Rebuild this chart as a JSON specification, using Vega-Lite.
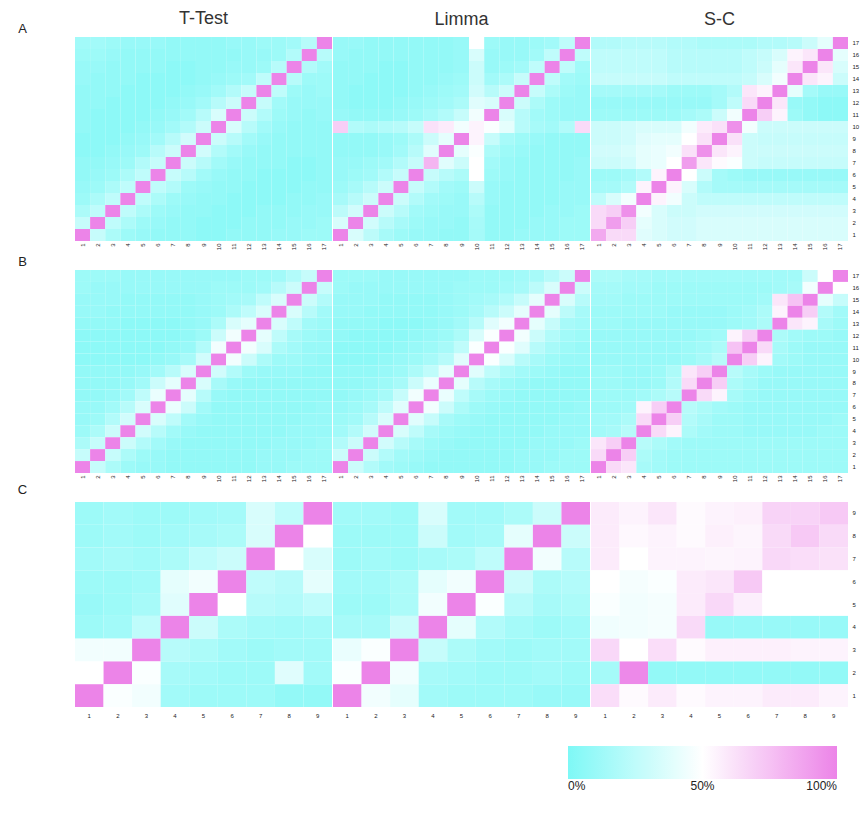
{
"$schema":"https://vega.github.io/schema/vega-lite/v6.json",
"padding":{"left":17,"top":10,"right":2,"bottom":2},
"background":"white",
"config":{"font":"Liberation Sans","view":{"stroke":null},"axis":{"ticks":false,"domain":false,"labelColor":"#222","labelFontSize":6},
"title":{"fontSize":18,"fontWeight":"normal","color":"#333","offset":8},
"legend":{"orient":"none","legendX":493,"legendY":709,"direction":"horizontal","gradientLength":269,"gradientThickness":33,"labelFontSize":12,"labelColor":"#222","labelOffset":8,"gradientStrokeWidth":0}},
"datasets":{
"ttA":[
{"c":1,"r":17,"v":14},{"c":2,"r":17,"v":14},{"c":3,"r":17,"v":12},{"c":4,"r":17,"v":10},{"c":5,"r":17,"v":10},{"c":6,"r":17,"v":10},{"c":7,"r":17,"v":8},{"c":8,"r":17,"v":8},{"c":9,"r":17,"v":8},{"c":10,"r":17,"v":8},{"c":11,"r":17,"v":10},{"c":12,"r":17,"v":10},{"c":13,"r":17,"v":12},{"c":14,"r":17,"v":12},{"c":15,"r":17,"v":14},{"c":16,"r":17,"v":22},{"c":17,"r":17,"v":100},
{"c":1,"r":16,"v":12},{"c":2,"r":16,"v":12},{"c":3,"r":16,"v":10},{"c":4,"r":16,"v":8},{"c":5,"r":16,"v":8},{"c":6,"r":16,"v":8},{"c":7,"r":16,"v":8},{"c":8,"r":16,"v":8},{"c":9,"r":16,"v":8},{"c":10,"r":16,"v":8},{"c":11,"r":16,"v":8},{"c":12,"r":16,"v":10},{"c":13,"r":16,"v":10},{"c":14,"r":16,"v":12},{"c":15,"r":16,"v":20},{"c":16,"r":16,"v":100},{"c":17,"r":16,"v":22},
{"c":1,"r":15,"v":10},{"c":2,"r":15,"v":10},{"c":3,"r":15,"v":8},{"c":4,"r":15,"v":8},{"c":5,"r":15,"v":8},{"c":6,"r":15,"v":8},{"c":7,"r":15,"v":6},{"c":8,"r":15,"v":6},{"c":9,"r":15,"v":8},{"c":10,"r":15,"v":8},{"c":11,"r":15,"v":10},{"c":12,"r":15,"v":10},{"c":13,"r":15,"v":12},{"c":14,"r":15,"v":22},{"c":15,"r":15,"v":100},{"c":16,"r":15,"v":20},{"c":17,"r":15,"v":14},
{"c":1,"r":14,"v":10},{"c":2,"r":14,"v":8},{"c":3,"r":14,"v":8},{"c":4,"r":14,"v":8},{"c":5,"r":14,"v":6},{"c":6,"r":14,"v":6},{"c":7,"r":14,"v":6},{"c":8,"r":14,"v":6},{"c":9,"r":14,"v":8},{"c":10,"r":14,"v":10},{"c":11,"r":14,"v":12},{"c":12,"r":14,"v":14},{"c":13,"r":14,"v":25},{"c":14,"r":14,"v":100},{"c":15,"r":14,"v":22},{"c":16,"r":14,"v":12},{"c":17,"r":14,"v":12},
{"c":1,"r":13,"v":8},{"c":2,"r":13,"v":8},{"c":3,"r":13,"v":8},{"c":4,"r":13,"v":6},{"c":5,"r":13,"v":6},{"c":6,"r":13,"v":6},{"c":7,"r":13,"v":6},{"c":8,"r":13,"v":8},{"c":9,"r":13,"v":10},{"c":10,"r":13,"v":14},{"c":11,"r":13,"v":20},{"c":12,"r":13,"v":28},{"c":13,"r":13,"v":100},{"c":14,"r":13,"v":25},{"c":15,"r":13,"v":12},{"c":16,"r":13,"v":10},{"c":17,"r":13,"v":12},
{"c":1,"r":12,"v":8},{"c":2,"r":12,"v":8},{"c":3,"r":12,"v":6},{"c":4,"r":12,"v":6},{"c":5,"r":12,"v":6},{"c":6,"r":12,"v":6},{"c":7,"r":12,"v":8},{"c":8,"r":12,"v":10},{"c":9,"r":12,"v":14},{"c":10,"r":12,"v":22},{"c":11,"r":12,"v":30},{"c":12,"r":12,"v":100},{"c":13,"r":12,"v":28},{"c":14,"r":12,"v":14},{"c":15,"r":12,"v":10},{"c":16,"r":12,"v":10},{"c":17,"r":12,"v":10},
{"c":1,"r":11,"v":8},{"c":2,"r":11,"v":6},{"c":3,"r":11,"v":6},{"c":4,"r":11,"v":6},{"c":5,"r":11,"v":6},{"c":6,"r":11,"v":8},{"c":7,"r":11,"v":10},{"c":8,"r":11,"v":14},{"c":9,"r":11,"v":22},{"c":10,"r":11,"v":35},{"c":11,"r":11,"v":100},{"c":12,"r":11,"v":30},{"c":13,"r":11,"v":20},{"c":14,"r":11,"v":12},{"c":15,"r":11,"v":10},{"c":16,"r":11,"v":8},{"c":17,"r":11,"v":10},
{"c":1,"r":10,"v":8},{"c":2,"r":10,"v":6},{"c":3,"r":10,"v":6},{"c":4,"r":10,"v":6},{"c":5,"r":10,"v":8},{"c":6,"r":10,"v":10},{"c":7,"r":10,"v":14},{"c":8,"r":10,"v":20},{"c":9,"r":10,"v":30},{"c":10,"r":10,"v":100},{"c":11,"r":10,"v":35},{"c":12,"r":10,"v":22},{"c":13,"r":10,"v":14},{"c":14,"r":10,"v":10},{"c":15,"r":10,"v":8},{"c":16,"r":10,"v":8},{"c":17,"r":10,"v":8},
{"c":1,"r":9,"v":6},{"c":2,"r":9,"v":6},{"c":3,"r":9,"v":6},{"c":4,"r":9,"v":8},{"c":5,"r":9,"v":10},{"c":6,"r":9,"v":14},{"c":7,"r":9,"v":22},{"c":8,"r":9,"v":32},{"c":9,"r":9,"v":100},{"c":10,"r":9,"v":30},{"c":11,"r":9,"v":22},{"c":12,"r":9,"v":14},{"c":13,"r":9,"v":10},{"c":14,"r":9,"v":8},{"c":15,"r":9,"v":8},{"c":16,"r":9,"v":8},{"c":17,"r":9,"v":8},
{"c":1,"r":8,"v":6},{"c":2,"r":8,"v":6},{"c":3,"r":8,"v":8},{"c":4,"r":8,"v":10},{"c":5,"r":8,"v":12},{"c":6,"r":8,"v":22},{"c":7,"r":8,"v":30},{"c":8,"r":8,"v":100},{"c":9,"r":8,"v":32},{"c":10,"r":8,"v":20},{"c":11,"r":8,"v":14},{"c":12,"r":8,"v":10},{"c":13,"r":8,"v":8},{"c":14,"r":8,"v":8},{"c":15,"r":8,"v":8},{"c":16,"r":8,"v":8},{"c":17,"r":8,"v":8},
{"c":1,"r":7,"v":8},{"c":2,"r":7,"v":8},{"c":3,"r":7,"v":10},{"c":4,"r":7,"v":12},{"c":5,"r":7,"v":20},{"c":6,"r":7,"v":28},{"c":7,"r":7,"v":100},{"c":8,"r":7,"v":30},{"c":9,"r":7,"v":22},{"c":10,"r":7,"v":14},{"c":11,"r":7,"v":10},{"c":12,"r":7,"v":8},{"c":13,"r":7,"v":8},{"c":14,"r":7,"v":8},{"c":15,"r":7,"v":6},{"c":16,"r":7,"v":6},{"c":17,"r":7,"v":8},
{"c":1,"r":6,"v":8},{"c":2,"r":6,"v":10},{"c":3,"r":6,"v":12},{"c":4,"r":6,"v":18},{"c":5,"r":6,"v":25},{"c":6,"r":6,"v":100},{"c":7,"r":6,"v":28},{"c":8,"r":6,"v":22},{"c":9,"r":6,"v":14},{"c":10,"r":6,"v":10},{"c":11,"r":6,"v":8},{"c":12,"r":6,"v":8},{"c":13,"r":6,"v":6},{"c":14,"r":6,"v":6},{"c":15,"r":6,"v":6},{"c":16,"r":6,"v":6},{"c":17,"r":6,"v":8},
{"c":1,"r":5,"v":10},{"c":2,"r":5,"v":12},{"c":3,"r":5,"v":18},{"c":4,"r":5,"v":25},{"c":5,"r":5,"v":100},{"c":6,"r":5,"v":25},{"c":7,"r":5,"v":20},{"c":8,"r":5,"v":12},{"c":9,"r":5,"v":10},{"c":10,"r":5,"v":8},{"c":11,"r":5,"v":8},{"c":12,"r":5,"v":6},{"c":13,"r":5,"v":6},{"c":14,"r":5,"v":6},{"c":15,"r":5,"v":6},{"c":16,"r":5,"v":8},{"c":17,"r":5,"v":8},
{"c":1,"r":4,"v":12},{"c":2,"r":4,"v":18},{"c":3,"r":4,"v":25},{"c":4,"r":4,"v":100},{"c":5,"r":4,"v":25},{"c":6,"r":4,"v":18},{"c":7,"r":4,"v":12},{"c":8,"r":4,"v":10},{"c":9,"r":4,"v":8},{"c":10,"r":4,"v":8},{"c":11,"r":4,"v":6},{"c":12,"r":4,"v":6},{"c":13,"r":4,"v":6},{"c":14,"r":4,"v":6},{"c":15,"r":4,"v":8},{"c":16,"r":4,"v":8},{"c":17,"r":4,"v":10},
{"c":1,"r":3,"v":18},{"c":2,"r":3,"v":25},{"c":3,"r":3,"v":100},{"c":4,"r":3,"v":25},{"c":5,"r":3,"v":18},{"c":6,"r":3,"v":12},{"c":7,"r":3,"v":10},{"c":8,"r":3,"v":8},{"c":9,"r":3,"v":8},{"c":10,"r":3,"v":6},{"c":11,"r":3,"v":6},{"c":12,"r":3,"v":6},{"c":13,"r":3,"v":8},{"c":14,"r":3,"v":8},{"c":15,"r":3,"v":8},{"c":16,"r":3,"v":10},{"c":17,"r":3,"v":10},
{"c":1,"r":2,"v":28},{"c":2,"r":2,"v":100},{"c":3,"r":2,"v":25},{"c":4,"r":2,"v":18},{"c":5,"r":2,"v":12},{"c":6,"r":2,"v":10},{"c":7,"r":2,"v":8},{"c":8,"r":2,"v":8},{"c":9,"r":2,"v":6},{"c":10,"r":2,"v":6},{"c":11,"r":2,"v":6},{"c":12,"r":2,"v":8},{"c":13,"r":2,"v":8},{"c":14,"r":2,"v":8},{"c":15,"r":2,"v":10},{"c":16,"r":2,"v":10},{"c":17,"r":2,"v":12},
{"c":1,"r":1,"v":100},{"c":2,"r":1,"v":28},{"c":3,"r":1,"v":18},{"c":4,"r":1,"v":12},{"c":5,"r":1,"v":10},{"c":6,"r":1,"v":8},{"c":7,"r":1,"v":8},{"c":8,"r":1,"v":8},{"c":9,"r":1,"v":6},{"c":10,"r":1,"v":6},{"c":11,"r":1,"v":8},{"c":12,"r":1,"v":8},{"c":13,"r":1,"v":8},{"c":14,"r":1,"v":10},{"c":15,"r":1,"v":10},{"c":16,"r":1,"v":12},{"c":17,"r":1,"v":12}],
"limA":[
{"c":1,"r":17,"v":10},{"c":2,"r":17,"v":10},{"c":3,"r":17,"v":8},{"c":4,"r":17,"v":8},{"c":5,"r":17,"v":8},{"c":6,"r":17,"v":8},{"c":7,"r":17,"v":8},{"c":8,"r":17,"v":8},{"c":9,"r":17,"v":10},{"c":10,"r":17,"v":50},{"c":11,"r":17,"v":12},{"c":12,"r":17,"v":10},{"c":13,"r":17,"v":10},{"c":14,"r":17,"v":12},{"c":15,"r":17,"v":14},{"c":16,"r":17,"v":25},{"c":17,"r":17,"v":100},
{"c":1,"r":16,"v":10},{"c":2,"r":16,"v":8},{"c":3,"r":16,"v":8},{"c":4,"r":16,"v":8},{"c":5,"r":16,"v":8},{"c":6,"r":16,"v":8},{"c":7,"r":16,"v":8},{"c":8,"r":16,"v":8},{"c":9,"r":16,"v":10},{"c":10,"r":16,"v":35},{"c":11,"r":16,"v":10},{"c":12,"r":16,"v":10},{"c":13,"r":16,"v":10},{"c":14,"r":16,"v":14},{"c":15,"r":16,"v":25},{"c":16,"r":16,"v":100},{"c":17,"r":16,"v":25},
{"c":1,"r":15,"v":8},{"c":2,"r":15,"v":8},{"c":3,"r":15,"v":8},{"c":4,"r":15,"v":6},{"c":5,"r":15,"v":6},{"c":6,"r":15,"v":8},{"c":7,"r":15,"v":8},{"c":8,"r":15,"v":8},{"c":9,"r":15,"v":10},{"c":10,"r":15,"v":30},{"c":11,"r":15,"v":10},{"c":12,"r":15,"v":12},{"c":13,"r":15,"v":14},{"c":14,"r":15,"v":25},{"c":15,"r":15,"v":100},{"c":16,"r":15,"v":25},{"c":17,"r":15,"v":14},
{"c":1,"r":14,"v":8},{"c":2,"r":14,"v":8},{"c":3,"r":14,"v":6},{"c":4,"r":14,"v":6},{"c":5,"r":14,"v":6},{"c":6,"r":14,"v":8},{"c":7,"r":14,"v":8},{"c":8,"r":14,"v":10},{"c":9,"r":14,"v":12},{"c":10,"r":14,"v":30},{"c":11,"r":14,"v":14},{"c":12,"r":14,"v":18},{"c":13,"r":14,"v":28},{"c":14,"r":14,"v":100},{"c":15,"r":14,"v":25},{"c":16,"r":14,"v":14},{"c":17,"r":14,"v":12},
{"c":1,"r":13,"v":8},{"c":2,"r":13,"v":6},{"c":3,"r":13,"v":6},{"c":4,"r":13,"v":6},{"c":5,"r":13,"v":6},{"c":6,"r":13,"v":8},{"c":7,"r":13,"v":10},{"c":8,"r":13,"v":12},{"c":9,"r":13,"v":14},{"c":10,"r":13,"v":32},{"c":11,"r":13,"v":22},{"c":12,"r":13,"v":30},{"c":13,"r":13,"v":100},{"c":14,"r":13,"v":28},{"c":15,"r":13,"v":18},{"c":16,"r":13,"v":12},{"c":17,"r":13,"v":10},
{"c":1,"r":12,"v":8},{"c":2,"r":12,"v":6},{"c":3,"r":12,"v":6},{"c":4,"r":12,"v":6},{"c":5,"r":12,"v":8},{"c":6,"r":12,"v":10},{"c":7,"r":12,"v":12},{"c":8,"r":12,"v":14},{"c":9,"r":12,"v":18},{"c":10,"r":12,"v":38},{"c":11,"r":12,"v":35},{"c":12,"r":12,"v":100},{"c":13,"r":12,"v":30},{"c":14,"r":12,"v":18},{"c":15,"r":12,"v":12},{"c":16,"r":12,"v":10},{"c":17,"r":12,"v":10},
{"c":1,"r":11,"v":10},{"c":2,"r":11,"v":8},{"c":3,"r":11,"v":8},{"c":4,"r":11,"v":8},{"c":5,"r":11,"v":10},{"c":6,"r":11,"v":12},{"c":7,"r":11,"v":16},{"c":8,"r":11,"v":20},{"c":9,"r":11,"v":28},{"c":10,"r":11,"v":45},{"c":11,"r":11,"v":100},{"c":12,"r":11,"v":35},{"c":13,"r":11,"v":22},{"c":14,"r":11,"v":14},{"c":15,"r":11,"v":12},{"c":16,"r":11,"v":10},{"c":17,"r":11,"v":10},
{"c":1,"r":10,"v":70},{"c":2,"r":10,"v":20},{"c":3,"r":10,"v":18},{"c":4,"r":10,"v":20},{"c":5,"r":10,"v":22},{"c":6,"r":10,"v":28},{"c":7,"r":10,"v":62},{"c":8,"r":10,"v":58},{"c":9,"r":10,"v":45},{"c":10,"r":10,"v":55},{"c":11,"r":10,"v":48},{"c":12,"r":10,"v":40},{"c":13,"r":10,"v":22},{"c":14,"r":10,"v":16},{"c":15,"r":10,"v":14},{"c":16,"r":10,"v":20},{"c":17,"r":10,"v":65},
{"c":1,"r":9,"v":8},{"c":2,"r":9,"v":8},{"c":3,"r":9,"v":8},{"c":4,"r":9,"v":10},{"c":5,"r":9,"v":12},{"c":6,"r":9,"v":18},{"c":7,"r":9,"v":30},{"c":8,"r":9,"v":40},{"c":9,"r":9,"v":100},{"c":10,"r":9,"v":55},{"c":11,"r":9,"v":28},{"c":12,"r":9,"v":16},{"c":13,"r":9,"v":12},{"c":14,"r":9,"v":10},{"c":15,"r":9,"v":8},{"c":16,"r":9,"v":8},{"c":17,"r":9,"v":8},
{"c":1,"r":8,"v":8},{"c":2,"r":8,"v":8},{"c":3,"r":8,"v":8},{"c":4,"r":8,"v":10},{"c":5,"r":8,"v":14},{"c":6,"r":8,"v":22},{"c":7,"r":8,"v":38},{"c":8,"r":8,"v":100},{"c":9,"r":8,"v":40},{"c":10,"r":8,"v":48},{"c":11,"r":8,"v":18},{"c":12,"r":8,"v":12},{"c":13,"r":8,"v":10},{"c":14,"r":8,"v":8},{"c":15,"r":8,"v":8},{"c":16,"r":8,"v":8},{"c":17,"r":8,"v":8},
{"c":1,"r":7,"v":10},{"c":2,"r":7,"v":10},{"c":3,"r":7,"v":12},{"c":4,"r":7,"v":14},{"c":5,"r":7,"v":20},{"c":6,"r":7,"v":28},{"c":7,"r":7,"v":80},{"c":8,"r":7,"v":38},{"c":9,"r":7,"v":30},{"c":10,"r":7,"v":50},{"c":11,"r":7,"v":14},{"c":12,"r":7,"v":10},{"c":13,"r":7,"v":8},{"c":14,"r":7,"v":8},{"c":15,"r":7,"v":8},{"c":16,"r":7,"v":8},{"c":17,"r":7,"v":10},
{"c":1,"r":6,"v":10},{"c":2,"r":6,"v":12},{"c":3,"r":6,"v":14},{"c":4,"r":6,"v":20},{"c":5,"r":6,"v":28},{"c":6,"r":6,"v":100},{"c":7,"r":6,"v":28},{"c":8,"r":6,"v":22},{"c":9,"r":6,"v":18},{"c":10,"r":6,"v":50},{"c":11,"r":6,"v":12},{"c":12,"r":6,"v":10},{"c":13,"r":6,"v":8},{"c":14,"r":6,"v":8},{"c":15,"r":6,"v":8},{"c":16,"r":6,"v":8},{"c":17,"r":6,"v":10},
{"c":1,"r":5,"v":12},{"c":2,"r":5,"v":16},{"c":3,"r":5,"v":22},{"c":4,"r":5,"v":30},{"c":5,"r":5,"v":100},{"c":6,"r":5,"v":28},{"c":7,"r":5,"v":20},{"c":8,"r":5,"v":14},{"c":9,"r":5,"v":12},{"c":10,"r":5,"v":30},{"c":11,"r":5,"v":10},{"c":12,"r":5,"v":8},{"c":13,"r":5,"v":8},{"c":14,"r":5,"v":8},{"c":15,"r":5,"v":8},{"c":16,"r":5,"v":10},{"c":17,"r":5,"v":10},
{"c":1,"r":4,"v":16},{"c":2,"r":4,"v":22},{"c":3,"r":4,"v":30},{"c":4,"r":4,"v":100},{"c":5,"r":4,"v":30},{"c":6,"r":4,"v":20},{"c":7,"r":4,"v":14},{"c":8,"r":4,"v":12},{"c":9,"r":4,"v":10},{"c":10,"r":4,"v":22},{"c":11,"r":4,"v":10},{"c":12,"r":4,"v":8},{"c":13,"r":4,"v":8},{"c":14,"r":4,"v":8},{"c":15,"r":4,"v":8},{"c":16,"r":4,"v":10},{"c":17,"r":4,"v":10},
{"c":1,"r":3,"v":24},{"c":2,"r":3,"v":32},{"c":3,"r":3,"v":100},{"c":4,"r":3,"v":30},{"c":5,"r":3,"v":22},{"c":6,"r":3,"v":14},{"c":7,"r":3,"v":12},{"c":8,"r":3,"v":10},{"c":9,"r":3,"v":10},{"c":10,"r":3,"v":18},{"c":11,"r":3,"v":8},{"c":12,"r":3,"v":8},{"c":13,"r":3,"v":8},{"c":14,"r":3,"v":8},{"c":15,"r":3,"v":10},{"c":16,"r":3,"v":10},{"c":17,"r":3,"v":12},
{"c":1,"r":2,"v":35},{"c":2,"r":2,"v":100},{"c":3,"r":2,"v":32},{"c":4,"r":2,"v":22},{"c":5,"r":2,"v":16},{"c":6,"r":2,"v":12},{"c":7,"r":2,"v":10},{"c":8,"r":2,"v":10},{"c":9,"r":2,"v":8},{"c":10,"r":2,"v":16},{"c":11,"r":2,"v":8},{"c":12,"r":2,"v":8},{"c":13,"r":2,"v":8},{"c":14,"r":2,"v":10},{"c":15,"r":2,"v":10},{"c":16,"r":2,"v":12},{"c":17,"r":2,"v":12},
{"c":1,"r":1,"v":100},{"c":2,"r":1,"v":35},{"c":3,"r":1,"v":24},{"c":4,"r":1,"v":16},{"c":5,"r":1,"v":12},{"c":6,"r":1,"v":10},{"c":7,"r":1,"v":10},{"c":8,"r":1,"v":8},{"c":9,"r":1,"v":8},{"c":10,"r":1,"v":15},{"c":11,"r":1,"v":8},{"c":12,"r":1,"v":8},{"c":13,"r":1,"v":10},{"c":14,"r":1,"v":10},{"c":15,"r":1,"v":10},{"c":16,"r":1,"v":12},{"c":17,"r":1,"v":12}],
"scA":[
{"c":1,"r":17,"v":20},{"c":2,"r":17,"v":20},{"c":3,"r":17,"v":22},{"c":4,"r":17,"v":22},{"c":5,"r":17,"v":22},{"c":6,"r":17,"v":20},{"c":7,"r":17,"v":20},{"c":8,"r":17,"v":18},{"c":9,"r":17,"v":18},{"c":10,"r":17,"v":18},{"c":11,"r":17,"v":18},{"c":12,"r":17,"v":20},{"c":13,"r":17,"v":20},{"c":14,"r":17,"v":22},{"c":15,"r":17,"v":30},{"c":16,"r":17,"v":40},{"c":17,"r":17,"v":100},
{"c":1,"r":16,"v":25},{"c":2,"r":16,"v":25},{"c":3,"r":16,"v":25},{"c":4,"r":16,"v":25},{"c":5,"r":16,"v":25},{"c":6,"r":16,"v":22},{"c":7,"r":16,"v":22},{"c":8,"r":16,"v":22},{"c":9,"r":16,"v":22},{"c":10,"r":16,"v":22},{"c":11,"r":16,"v":25},{"c":12,"r":16,"v":28},{"c":13,"r":16,"v":35},{"c":14,"r":16,"v":55},{"c":15,"r":16,"v":60},{"c":16,"r":16,"v":100},{"c":17,"r":16,"v":40},
{"c":1,"r":15,"v":25},{"c":2,"r":15,"v":25},{"c":3,"r":15,"v":25},{"c":4,"r":15,"v":25},{"c":5,"r":15,"v":25},{"c":6,"r":15,"v":22},{"c":7,"r":15,"v":22},{"c":8,"r":15,"v":22},{"c":9,"r":15,"v":22},{"c":10,"r":15,"v":22},{"c":11,"r":15,"v":25},{"c":12,"r":15,"v":30},{"c":13,"r":15,"v":40},{"c":14,"r":15,"v":60},{"c":15,"r":15,"v":100},{"c":16,"r":15,"v":60},{"c":17,"r":15,"v":35},
{"c":1,"r":14,"v":28},{"c":2,"r":14,"v":28},{"c":3,"r":14,"v":28},{"c":4,"r":14,"v":28},{"c":5,"r":14,"v":28},{"c":6,"r":14,"v":25},{"c":7,"r":14,"v":25},{"c":8,"r":14,"v":25},{"c":9,"r":14,"v":25},{"c":10,"r":14,"v":25},{"c":11,"r":14,"v":28},{"c":12,"r":14,"v":35},{"c":13,"r":14,"v":45},{"c":14,"r":14,"v":100},{"c":15,"r":14,"v":60},{"c":16,"r":14,"v":55},{"c":17,"r":14,"v":30},
{"c":1,"r":13,"v":15},{"c":2,"r":13,"v":15},{"c":3,"r":13,"v":15},{"c":4,"r":13,"v":15},{"c":5,"r":13,"v":15},{"c":6,"r":13,"v":12},{"c":7,"r":13,"v":12},{"c":8,"r":13,"v":12},{"c":9,"r":13,"v":15},{"c":10,"r":13,"v":20},{"c":11,"r":13,"v":60},{"c":12,"r":13,"v":55},{"c":13,"r":13,"v":100},{"c":14,"r":13,"v":40},{"c":15,"r":13,"v":15},{"c":16,"r":13,"v":10},{"c":17,"r":13,"v":10},
{"c":1,"r":12,"v":10},{"c":2,"r":12,"v":10},{"c":3,"r":12,"v":10},{"c":4,"r":12,"v":10},{"c":5,"r":12,"v":10},{"c":6,"r":12,"v":10},{"c":7,"r":12,"v":10},{"c":8,"r":12,"v":10},{"c":9,"r":12,"v":15},{"c":10,"r":12,"v":25},{"c":11,"r":12,"v":65},{"c":12,"r":12,"v":100},{"c":13,"r":12,"v":60},{"c":14,"r":12,"v":10},{"c":15,"r":12,"v":8},{"c":16,"r":12,"v":6},{"c":17,"r":12,"v":6},
{"c":1,"r":11,"v":12},{"c":2,"r":11,"v":12},{"c":3,"r":11,"v":12},{"c":4,"r":11,"v":12},{"c":5,"r":11,"v":12},{"c":6,"r":11,"v":12},{"c":7,"r":11,"v":15},{"c":8,"r":11,"v":18},{"c":9,"r":11,"v":30},{"c":10,"r":11,"v":45},{"c":11,"r":11,"v":100},{"c":12,"r":11,"v":70},{"c":13,"r":11,"v":55},{"c":14,"r":11,"v":12},{"c":15,"r":11,"v":8},{"c":16,"r":11,"v":6},{"c":17,"r":11,"v":6},
{"c":1,"r":10,"v":30},{"c":2,"r":10,"v":30},{"c":3,"r":10,"v":32},{"c":4,"r":10,"v":35},{"c":5,"r":10,"v":35},{"c":6,"r":10,"v":35},{"c":7,"r":10,"v":45},{"c":8,"r":10,"v":58},{"c":9,"r":10,"v":62},{"c":10,"r":10,"v":95},{"c":11,"r":10,"v":45},{"c":12,"r":10,"v":30},{"c":13,"r":10,"v":30},{"c":14,"r":10,"v":30},{"c":15,"r":10,"v":30},{"c":16,"r":10,"v":30},{"c":17,"r":10,"v":30},
{"c":1,"r":9,"v":30},{"c":2,"r":9,"v":30},{"c":3,"r":9,"v":32},{"c":4,"r":9,"v":38},{"c":5,"r":9,"v":40},{"c":6,"r":9,"v":40},{"c":7,"r":9,"v":50},{"c":8,"r":9,"v":62},{"c":9,"r":9,"v":100},{"c":10,"r":9,"v":62},{"c":11,"r":9,"v":30},{"c":12,"r":9,"v":28},{"c":13,"r":9,"v":28},{"c":14,"r":9,"v":28},{"c":15,"r":9,"v":28},{"c":16,"r":9,"v":28},{"c":17,"r":9,"v":28},
{"c":1,"r":8,"v":32},{"c":2,"r":8,"v":32},{"c":3,"r":8,"v":35},{"c":4,"r":8,"v":40},{"c":5,"r":8,"v":42},{"c":6,"r":8,"v":45},{"c":7,"r":8,"v":62},{"c":8,"r":8,"v":95},{"c":9,"r":8,"v":60},{"c":10,"r":8,"v":55},{"c":11,"r":8,"v":30},{"c":12,"r":8,"v":30},{"c":13,"r":8,"v":30},{"c":14,"r":8,"v":30},{"c":15,"r":8,"v":30},{"c":16,"r":8,"v":30},{"c":17,"r":8,"v":30},
{"c":1,"r":7,"v":30},{"c":2,"r":7,"v":30},{"c":3,"r":7,"v":32},{"c":4,"r":7,"v":40},{"c":5,"r":7,"v":42},{"c":6,"r":7,"v":50},{"c":7,"r":7,"v":90},{"c":8,"r":7,"v":60},{"c":9,"r":7,"v":52},{"c":10,"r":7,"v":48},{"c":11,"r":7,"v":30},{"c":12,"r":7,"v":28},{"c":13,"r":7,"v":28},{"c":14,"r":7,"v":28},{"c":15,"r":7,"v":28},{"c":16,"r":7,"v":28},{"c":17,"r":7,"v":28},
{"c":1,"r":6,"v":12},{"c":2,"r":6,"v":12},{"c":3,"r":6,"v":15},{"c":4,"r":6,"v":20},{"c":5,"r":6,"v":55},{"c":6,"r":6,"v":100},{"c":7,"r":6,"v":50},{"c":8,"r":6,"v":30},{"c":9,"r":6,"v":15},{"c":10,"r":6,"v":12},{"c":11,"r":6,"v":10},{"c":12,"r":6,"v":10},{"c":13,"r":6,"v":10},{"c":14,"r":6,"v":10},{"c":15,"r":6,"v":10},{"c":16,"r":6,"v":10},{"c":17,"r":6,"v":10},
{"c":1,"r":5,"v":15},{"c":2,"r":5,"v":15},{"c":3,"r":5,"v":20},{"c":4,"r":5,"v":55},{"c":5,"r":5,"v":100},{"c":6,"r":5,"v":55},{"c":7,"r":5,"v":35},{"c":8,"r":5,"v":20},{"c":9,"r":5,"v":15},{"c":10,"r":5,"v":15},{"c":11,"r":5,"v":15},{"c":12,"r":5,"v":15},{"c":13,"r":5,"v":15},{"c":14,"r":5,"v":15},{"c":15,"r":5,"v":15},{"c":16,"r":5,"v":15},{"c":17,"r":5,"v":15},
{"c":1,"r":4,"v":25},{"c":2,"r":4,"v":35},{"c":3,"r":4,"v":45},{"c":4,"r":4,"v":100},{"c":5,"r":4,"v":55},{"c":6,"r":4,"v":45},{"c":7,"r":4,"v":30},{"c":8,"r":4,"v":25},{"c":9,"r":4,"v":25},{"c":10,"r":4,"v":25},{"c":11,"r":4,"v":25},{"c":12,"r":4,"v":25},{"c":13,"r":4,"v":25},{"c":14,"r":4,"v":25},{"c":15,"r":4,"v":25},{"c":16,"r":4,"v":25},{"c":17,"r":4,"v":25},
{"c":1,"r":3,"v":65},{"c":2,"r":3,"v":70},{"c":3,"r":3,"v":95},{"c":4,"r":3,"v":45},{"c":5,"r":3,"v":35},{"c":6,"r":3,"v":30},{"c":7,"r":3,"v":30},{"c":8,"r":3,"v":32},{"c":9,"r":3,"v":32},{"c":10,"r":3,"v":32},{"c":11,"r":3,"v":32},{"c":12,"r":3,"v":32},{"c":13,"r":3,"v":32},{"c":14,"r":3,"v":32},{"c":15,"r":3,"v":32},{"c":16,"r":3,"v":32},{"c":17,"r":3,"v":32},
{"c":1,"r":2,"v":65},{"c":2,"r":2,"v":90},{"c":3,"r":2,"v":70},{"c":4,"r":2,"v":40},{"c":5,"r":2,"v":35},{"c":6,"r":2,"v":32},{"c":7,"r":2,"v":32},{"c":8,"r":2,"v":35},{"c":9,"r":2,"v":35},{"c":10,"r":2,"v":35},{"c":11,"r":2,"v":35},{"c":12,"r":2,"v":35},{"c":13,"r":2,"v":35},{"c":14,"r":2,"v":35},{"c":15,"r":2,"v":35},{"c":16,"r":2,"v":35},{"c":17,"r":2,"v":35},
{"c":1,"r":1,"v":85},{"c":2,"r":1,"v":65},{"c":3,"r":1,"v":65},{"c":4,"r":1,"v":38},{"c":5,"r":1,"v":35},{"c":6,"r":1,"v":32},{"c":7,"r":1,"v":32},{"c":8,"r":1,"v":35},{"c":9,"r":1,"v":35},{"c":10,"r":1,"v":35},{"c":11,"r":1,"v":35},{"c":12,"r":1,"v":35},{"c":13,"r":1,"v":35},{"c":14,"r":1,"v":35},{"c":15,"r":1,"v":35},{"c":16,"r":1,"v":35},{"c":17,"r":1,"v":35}],
"ttB":[
{"c":1,"r":17,"v":12},{"c":2,"r":17,"v":12},{"c":3,"r":17,"v":12},{"c":4,"r":17,"v":10},{"c":5,"r":17,"v":10},{"c":6,"r":17,"v":10},{"c":7,"r":17,"v":10},{"c":8,"r":17,"v":10},{"c":9,"r":17,"v":10},{"c":10,"r":17,"v":10},{"c":11,"r":17,"v":10},{"c":12,"r":17,"v":12},{"c":13,"r":17,"v":12},{"c":14,"r":17,"v":14},{"c":15,"r":17,"v":20},{"c":16,"r":17,"v":28},{"c":17,"r":17,"v":100},
{"c":1,"r":16,"v":12},{"c":2,"r":16,"v":10},{"c":3,"r":16,"v":10},{"c":4,"r":16,"v":10},{"c":5,"r":16,"v":10},{"c":6,"r":16,"v":10},{"c":7,"r":16,"v":10},{"c":8,"r":16,"v":10},{"c":9,"r":16,"v":10},{"c":10,"r":16,"v":12},{"c":11,"r":16,"v":12},{"c":12,"r":16,"v":12},{"c":13,"r":16,"v":14},{"c":14,"r":16,"v":22},{"c":15,"r":16,"v":30},{"c":16,"r":16,"v":100},{"c":17,"r":16,"v":28},
{"c":1,"r":15,"v":10},{"c":2,"r":15,"v":10},{"c":3,"r":15,"v":10},{"c":4,"r":15,"v":8},{"c":5,"r":15,"v":8},{"c":6,"r":15,"v":8},{"c":7,"r":15,"v":8},{"c":8,"r":15,"v":8},{"c":9,"r":15,"v":10},{"c":10,"r":15,"v":12},{"c":11,"r":15,"v":14},{"c":12,"r":15,"v":16},{"c":13,"r":15,"v":25},{"c":14,"r":15,"v":35},{"c":15,"r":15,"v":100},{"c":16,"r":15,"v":30},{"c":17,"r":15,"v":20},
{"c":1,"r":14,"v":10},{"c":2,"r":14,"v":10},{"c":3,"r":14,"v":8},{"c":4,"r":14,"v":8},{"c":5,"r":14,"v":8},{"c":6,"r":14,"v":8},{"c":7,"r":14,"v":8},{"c":8,"r":14,"v":8},{"c":9,"r":14,"v":10},{"c":10,"r":14,"v":12},{"c":11,"r":14,"v":18},{"c":12,"r":14,"v":25},{"c":13,"r":14,"v":35},{"c":14,"r":14,"v":100},{"c":15,"r":14,"v":35},{"c":16,"r":14,"v":22},{"c":17,"r":14,"v":14},
{"c":1,"r":13,"v":8},{"c":2,"r":13,"v":8},{"c":3,"r":13,"v":8},{"c":4,"r":13,"v":6},{"c":5,"r":13,"v":6},{"c":6,"r":13,"v":6},{"c":7,"r":13,"v":6},{"c":8,"r":13,"v":8},{"c":9,"r":13,"v":10},{"c":10,"r":13,"v":18},{"c":11,"r":13,"v":35},{"c":12,"r":13,"v":40},{"c":13,"r":13,"v":100},{"c":14,"r":13,"v":35},{"c":15,"r":13,"v":25},{"c":16,"r":13,"v":14},{"c":17,"r":13,"v":12},
{"c":1,"r":12,"v":6},{"c":2,"r":12,"v":6},{"c":3,"r":12,"v":6},{"c":4,"r":12,"v":6},{"c":5,"r":12,"v":6},{"c":6,"r":12,"v":6},{"c":7,"r":12,"v":6},{"c":8,"r":12,"v":8},{"c":9,"r":12,"v":12},{"c":10,"r":12,"v":30},{"c":11,"r":12,"v":45},{"c":12,"r":12,"v":100},{"c":13,"r":12,"v":40},{"c":14,"r":12,"v":25},{"c":15,"r":12,"v":16},{"c":16,"r":12,"v":12},{"c":17,"r":12,"v":10},
{"c":1,"r":11,"v":6},{"c":2,"r":11,"v":6},{"c":3,"r":11,"v":6},{"c":4,"r":11,"v":6},{"c":5,"r":11,"v":6},{"c":6,"r":11,"v":6},{"c":7,"r":11,"v":8},{"c":8,"r":11,"v":10},{"c":9,"r":11,"v":20},{"c":10,"r":11,"v":45},{"c":11,"r":11,"v":100},{"c":12,"r":11,"v":45},{"c":13,"r":11,"v":35},{"c":14,"r":11,"v":18},{"c":15,"r":11,"v":14},{"c":16,"r":11,"v":10},{"c":17,"r":11,"v":10},
{"c":1,"r":10,"v":6},{"c":2,"r":10,"v":6},{"c":3,"r":10,"v":6},{"c":4,"r":10,"v":6},{"c":5,"r":10,"v":6},{"c":6,"r":10,"v":8},{"c":7,"r":10,"v":10},{"c":8,"r":10,"v":16},{"c":9,"r":10,"v":32},{"c":10,"r":10,"v":100},{"c":11,"r":10,"v":45},{"c":12,"r":10,"v":30},{"c":13,"r":10,"v":18},{"c":14,"r":10,"v":12},{"c":15,"r":10,"v":12},{"c":16,"r":10,"v":10},{"c":17,"r":10,"v":8},
{"c":1,"r":9,"v":8},{"c":2,"r":9,"v":8},{"c":3,"r":9,"v":8},{"c":4,"r":9,"v":8},{"c":5,"r":9,"v":10},{"c":6,"r":9,"v":14},{"c":7,"r":9,"v":22},{"c":8,"r":9,"v":35},{"c":9,"r":9,"v":100},{"c":10,"r":9,"v":32},{"c":11,"r":9,"v":20},{"c":12,"r":9,"v":12},{"c":13,"r":9,"v":10},{"c":14,"r":9,"v":10},{"c":15,"r":9,"v":10},{"c":16,"r":9,"v":8},{"c":17,"r":9,"v":8},
{"c":1,"r":8,"v":8},{"c":2,"r":8,"v":8},{"c":3,"r":8,"v":8},{"c":4,"r":8,"v":10},{"c":5,"r":8,"v":14},{"c":6,"r":8,"v":30},{"c":7,"r":8,"v":40},{"c":8,"r":8,"v":100},{"c":9,"r":8,"v":35},{"c":10,"r":8,"v":16},{"c":11,"r":8,"v":10},{"c":12,"r":8,"v":8},{"c":13,"r":8,"v":8},{"c":14,"r":8,"v":8},{"c":15,"r":8,"v":8},{"c":16,"r":8,"v":8},{"c":17,"r":8,"v":8},
{"c":1,"r":7,"v":8},{"c":2,"r":7,"v":8},{"c":3,"r":7,"v":10},{"c":4,"r":7,"v":14},{"c":5,"r":7,"v":25},{"c":6,"r":7,"v":42},{"c":7,"r":7,"v":100},{"c":8,"r":7,"v":40},{"c":9,"r":7,"v":22},{"c":10,"r":7,"v":10},{"c":11,"r":7,"v":8},{"c":12,"r":7,"v":8},{"c":13,"r":7,"v":8},{"c":14,"r":7,"v":8},{"c":15,"r":7,"v":8},{"c":16,"r":7,"v":8},{"c":17,"r":7,"v":8},
{"c":1,"r":6,"v":10},{"c":2,"r":6,"v":10},{"c":3,"r":6,"v":14},{"c":4,"r":6,"v":22},{"c":5,"r":6,"v":35},{"c":6,"r":6,"v":100},{"c":7,"r":6,"v":42},{"c":8,"r":6,"v":30},{"c":9,"r":6,"v":14},{"c":10,"r":6,"v":8},{"c":11,"r":6,"v":8},{"c":12,"r":6,"v":8},{"c":13,"r":6,"v":8},{"c":14,"r":6,"v":8},{"c":15,"r":6,"v":8},{"c":16,"r":6,"v":8},{"c":17,"r":6,"v":10},
{"c":1,"r":5,"v":10},{"c":2,"r":5,"v":12},{"c":3,"r":5,"v":20},{"c":4,"r":5,"v":32},{"c":5,"r":5,"v":100},{"c":6,"r":5,"v":35},{"c":7,"r":5,"v":25},{"c":8,"r":5,"v":14},{"c":9,"r":5,"v":10},{"c":10,"r":5,"v":8},{"c":11,"r":5,"v":8},{"c":12,"r":5,"v":8},{"c":13,"r":5,"v":8},{"c":14,"r":5,"v":8},{"c":15,"r":5,"v":8},{"c":16,"r":5,"v":10},{"c":17,"r":5,"v":10},
{"c":1,"r":4,"v":12},{"c":2,"r":4,"v":18},{"c":3,"r":4,"v":30},{"c":4,"r":4,"v":100},{"c":5,"r":4,"v":32},{"c":6,"r":4,"v":22},{"c":7,"r":4,"v":14},{"c":8,"r":4,"v":10},{"c":9,"r":4,"v":8},{"c":10,"r":4,"v":8},{"c":11,"r":4,"v":8},{"c":12,"r":4,"v":8},{"c":13,"r":4,"v":8},{"c":14,"r":4,"v":8},{"c":15,"r":4,"v":10},{"c":16,"r":4,"v":10},{"c":17,"r":4,"v":10},
{"c":1,"r":3,"v":18},{"c":2,"r":3,"v":28},{"c":3,"r":3,"v":100},{"c":4,"r":3,"v":30},{"c":5,"r":3,"v":20},{"c":6,"r":3,"v":14},{"c":7,"r":3,"v":10},{"c":8,"r":3,"v":8},{"c":9,"r":3,"v":8},{"c":10,"r":3,"v":8},{"c":11,"r":3,"v":8},{"c":12,"r":3,"v":8},{"c":13,"r":3,"v":8},{"c":14,"r":3,"v":10},{"c":15,"r":3,"v":10},{"c":16,"r":3,"v":10},{"c":17,"r":3,"v":12},
{"c":1,"r":2,"v":28},{"c":2,"r":2,"v":100},{"c":3,"r":2,"v":28},{"c":4,"r":2,"v":18},{"c":5,"r":2,"v":12},{"c":6,"r":2,"v":10},{"c":7,"r":2,"v":8},{"c":8,"r":2,"v":8},{"c":9,"r":2,"v":8},{"c":10,"r":2,"v":8},{"c":11,"r":2,"v":8},{"c":12,"r":2,"v":8},{"c":13,"r":2,"v":10},{"c":14,"r":2,"v":10},{"c":15,"r":2,"v":10},{"c":16,"r":2,"v":12},{"c":17,"r":2,"v":12},
{"c":1,"r":1,"v":100},{"c":2,"r":1,"v":28},{"c":3,"r":1,"v":18},{"c":4,"r":1,"v":12},{"c":5,"r":1,"v":10},{"c":6,"r":1,"v":10},{"c":7,"r":1,"v":8},{"c":8,"r":1,"v":8},{"c":9,"r":1,"v":8},{"c":10,"r":1,"v":8},{"c":11,"r":1,"v":8},{"c":12,"r":1,"v":8},{"c":13,"r":1,"v":10},{"c":14,"r":1,"v":10},{"c":15,"r":1,"v":12},{"c":16,"r":1,"v":12},{"c":17,"r":1,"v":12}],
"limB":[
{"c":1,"r":17,"v":12},{"c":2,"r":17,"v":12},{"c":3,"r":17,"v":12},{"c":4,"r":17,"v":10},{"c":5,"r":17,"v":10},{"c":6,"r":17,"v":10},{"c":7,"r":17,"v":10},{"c":8,"r":17,"v":10},{"c":9,"r":17,"v":10},{"c":10,"r":17,"v":12},{"c":11,"r":17,"v":12},{"c":12,"r":17,"v":12},{"c":13,"r":17,"v":14},{"c":14,"r":17,"v":16},{"c":15,"r":17,"v":22},{"c":16,"r":17,"v":30},{"c":17,"r":17,"v":100},
{"c":1,"r":16,"v":12},{"c":2,"r":16,"v":10},{"c":3,"r":16,"v":10},{"c":4,"r":16,"v":10},{"c":5,"r":16,"v":10},{"c":6,"r":16,"v":10},{"c":7,"r":16,"v":10},{"c":8,"r":16,"v":10},{"c":9,"r":16,"v":12},{"c":10,"r":16,"v":12},{"c":11,"r":16,"v":12},{"c":12,"r":16,"v":14},{"c":13,"r":16,"v":16},{"c":14,"r":16,"v":24},{"c":15,"r":16,"v":35},{"c":16,"r":16,"v":100},{"c":17,"r":16,"v":30},
{"c":1,"r":15,"v":10},{"c":2,"r":15,"v":10},{"c":3,"r":15,"v":10},{"c":4,"r":15,"v":8},{"c":5,"r":15,"v":8},{"c":6,"r":15,"v":8},{"c":7,"r":15,"v":8},{"c":8,"r":15,"v":10},{"c":9,"r":15,"v":12},{"c":10,"r":15,"v":14},{"c":11,"r":15,"v":16},{"c":12,"r":15,"v":20},{"c":13,"r":15,"v":28},{"c":14,"r":15,"v":40},{"c":15,"r":15,"v":100},{"c":16,"r":15,"v":35},{"c":17,"r":15,"v":22},
{"c":1,"r":14,"v":10},{"c":2,"r":14,"v":10},{"c":3,"r":14,"v":8},{"c":4,"r":14,"v":8},{"c":5,"r":14,"v":8},{"c":6,"r":14,"v":8},{"c":7,"r":14,"v":8},{"c":8,"r":14,"v":10},{"c":9,"r":14,"v":12},{"c":10,"r":14,"v":16},{"c":11,"r":14,"v":22},{"c":12,"r":14,"v":30},{"c":13,"r":14,"v":40},{"c":14,"r":14,"v":100},{"c":15,"r":14,"v":40},{"c":16,"r":14,"v":24},{"c":17,"r":14,"v":16},
{"c":1,"r":13,"v":8},{"c":2,"r":13,"v":8},{"c":3,"r":13,"v":8},{"c":4,"r":13,"v":6},{"c":5,"r":13,"v":6},{"c":6,"r":13,"v":6},{"c":7,"r":13,"v":8},{"c":8,"r":13,"v":10},{"c":9,"r":13,"v":14},{"c":10,"r":13,"v":22},{"c":11,"r":13,"v":38},{"c":12,"r":13,"v":45},{"c":13,"r":13,"v":100},{"c":14,"r":13,"v":40},{"c":15,"r":13,"v":28},{"c":16,"r":13,"v":16},{"c":17,"r":13,"v":14},
{"c":1,"r":12,"v":8},{"c":2,"r":12,"v":6},{"c":3,"r":12,"v":6},{"c":4,"r":12,"v":6},{"c":5,"r":12,"v":6},{"c":6,"r":12,"v":8},{"c":7,"r":12,"v":10},{"c":8,"r":12,"v":12},{"c":9,"r":12,"v":18},{"c":10,"r":12,"v":35},{"c":11,"r":12,"v":48},{"c":12,"r":12,"v":100},{"c":13,"r":12,"v":45},{"c":14,"r":12,"v":30},{"c":15,"r":12,"v":20},{"c":16,"r":12,"v":14},{"c":17,"r":12,"v":12},
{"c":1,"r":11,"v":6},{"c":2,"r":11,"v":6},{"c":3,"r":11,"v":6},{"c":4,"r":11,"v":6},{"c":5,"r":11,"v":8},{"c":6,"r":11,"v":10},{"c":7,"r":11,"v":12},{"c":8,"r":11,"v":16},{"c":9,"r":11,"v":25},{"c":10,"r":11,"v":48},{"c":11,"r":11,"v":100},{"c":12,"r":11,"v":48},{"c":13,"r":11,"v":38},{"c":14,"r":11,"v":22},{"c":15,"r":11,"v":16},{"c":16,"r":11,"v":12},{"c":17,"r":11,"v":10},
{"c":1,"r":10,"v":6},{"c":2,"r":10,"v":6},{"c":3,"r":10,"v":6},{"c":4,"r":10,"v":8},{"c":5,"r":10,"v":10},{"c":6,"r":10,"v":12},{"c":7,"r":10,"v":16},{"c":8,"r":10,"v":22},{"c":9,"r":10,"v":38},{"c":10,"r":10,"v":100},{"c":11,"r":10,"v":48},{"c":12,"r":10,"v":35},{"c":13,"r":10,"v":22},{"c":14,"r":10,"v":16},{"c":15,"r":10,"v":12},{"c":16,"r":10,"v":10},{"c":17,"r":10,"v":10},
{"c":1,"r":9,"v":8},{"c":2,"r":9,"v":8},{"c":3,"r":9,"v":8},{"c":4,"r":9,"v":10},{"c":5,"r":9,"v":12},{"c":6,"r":9,"v":18},{"c":7,"r":9,"v":25},{"c":8,"r":9,"v":40},{"c":9,"r":9,"v":100},{"c":10,"r":9,"v":38},{"c":11,"r":9,"v":25},{"c":12,"r":9,"v":18},{"c":13,"r":9,"v":14},{"c":14,"r":9,"v":12},{"c":15,"r":9,"v":10},{"c":16,"r":9,"v":8},{"c":17,"r":9,"v":8},
{"c":1,"r":8,"v":8},{"c":2,"r":8,"v":8},{"c":3,"r":8,"v":10},{"c":4,"r":8,"v":12},{"c":5,"r":8,"v":16},{"c":6,"r":8,"v":30},{"c":7,"r":8,"v":42},{"c":8,"r":8,"v":100},{"c":9,"r":8,"v":40},{"c":10,"r":8,"v":22},{"c":11,"r":8,"v":16},{"c":12,"r":8,"v":12},{"c":13,"r":8,"v":10},{"c":14,"r":8,"v":8},{"c":15,"r":8,"v":8},{"c":16,"r":8,"v":8},{"c":17,"r":8,"v":8},
{"c":1,"r":7,"v":8},{"c":2,"r":7,"v":10},{"c":3,"r":7,"v":12},{"c":4,"r":7,"v":16},{"c":5,"r":7,"v":28},{"c":6,"r":7,"v":45},{"c":7,"r":7,"v":100},{"c":8,"r":7,"v":42},{"c":9,"r":7,"v":25},{"c":10,"r":7,"v":16},{"c":11,"r":7,"v":12},{"c":12,"r":7,"v":10},{"c":13,"r":7,"v":8},{"c":14,"r":7,"v":8},{"c":15,"r":7,"v":8},{"c":16,"r":7,"v":8},{"c":17,"r":7,"v":8},
{"c":1,"r":6,"v":10},{"c":2,"r":6,"v":12},{"c":3,"r":6,"v":16},{"c":4,"r":6,"v":25},{"c":5,"r":6,"v":38},{"c":6,"r":6,"v":100},{"c":7,"r":6,"v":45},{"c":8,"r":6,"v":30},{"c":9,"r":6,"v":18},{"c":10,"r":6,"v":12},{"c":11,"r":6,"v":10},{"c":12,"r":6,"v":8},{"c":13,"r":6,"v":8},{"c":14,"r":6,"v":8},{"c":15,"r":6,"v":8},{"c":16,"r":6,"v":8},{"c":17,"r":6,"v":10},
{"c":1,"r":5,"v":12},{"c":2,"r":5,"v":14},{"c":3,"r":5,"v":22},{"c":4,"r":5,"v":35},{"c":5,"r":5,"v":100},{"c":6,"r":5,"v":38},{"c":7,"r":5,"v":28},{"c":8,"r":5,"v":16},{"c":9,"r":5,"v":12},{"c":10,"r":5,"v":10},{"c":11,"r":5,"v":8},{"c":12,"r":5,"v":8},{"c":13,"r":5,"v":8},{"c":14,"r":5,"v":8},{"c":15,"r":5,"v":8},{"c":16,"r":5,"v":10},{"c":17,"r":5,"v":10},
{"c":1,"r":4,"v":14},{"c":2,"r":4,"v":20},{"c":3,"r":4,"v":32},{"c":4,"r":4,"v":100},{"c":5,"r":4,"v":35},{"c":6,"r":4,"v":25},{"c":7,"r":4,"v":16},{"c":8,"r":4,"v":12},{"c":9,"r":4,"v":10},{"c":10,"r":4,"v":8},{"c":11,"r":4,"v":8},{"c":12,"r":4,"v":8},{"c":13,"r":4,"v":8},{"c":14,"r":4,"v":8},{"c":15,"r":4,"v":10},{"c":16,"r":4,"v":10},{"c":17,"r":4,"v":10},
{"c":1,"r":3,"v":20},{"c":2,"r":3,"v":30},{"c":3,"r":3,"v":100},{"c":4,"r":3,"v":32},{"c":5,"r":3,"v":22},{"c":6,"r":3,"v":16},{"c":7,"r":3,"v":12},{"c":8,"r":3,"v":10},{"c":9,"r":3,"v":8},{"c":10,"r":3,"v":8},{"c":11,"r":3,"v":8},{"c":12,"r":3,"v":8},{"c":13,"r":3,"v":8},{"c":14,"r":3,"v":10},{"c":15,"r":3,"v":10},{"c":16,"r":3,"v":10},{"c":17,"r":3,"v":12},
{"c":1,"r":2,"v":30},{"c":2,"r":2,"v":100},{"c":3,"r":2,"v":30},{"c":4,"r":2,"v":20},{"c":5,"r":2,"v":14},{"c":6,"r":2,"v":12},{"c":7,"r":2,"v":10},{"c":8,"r":2,"v":8},{"c":9,"r":2,"v":8},{"c":10,"r":2,"v":8},{"c":11,"r":2,"v":8},{"c":12,"r":2,"v":8},{"c":13,"r":2,"v":10},{"c":14,"r":2,"v":10},{"c":15,"r":2,"v":10},{"c":16,"r":2,"v":12},{"c":17,"r":2,"v":12},
{"c":1,"r":1,"v":100},{"c":2,"r":1,"v":30},{"c":3,"r":1,"v":20},{"c":4,"r":1,"v":14},{"c":5,"r":1,"v":12},{"c":6,"r":1,"v":10},{"c":7,"r":1,"v":8},{"c":8,"r":1,"v":8},{"c":9,"r":1,"v":8},{"c":10,"r":1,"v":8},{"c":11,"r":1,"v":8},{"c":12,"r":1,"v":8},{"c":13,"r":1,"v":10},{"c":14,"r":1,"v":10},{"c":15,"r":1,"v":12},{"c":16,"r":1,"v":12},{"c":17,"r":1,"v":12}],
"scB":[
{"c":1,"r":17,"v":18},{"c":2,"r":17,"v":18},{"c":3,"r":17,"v":16},{"c":4,"r":17,"v":15},{"c":5,"r":17,"v":14},{"c":6,"r":17,"v":14},{"c":7,"r":17,"v":14},{"c":8,"r":17,"v":14},{"c":9,"r":17,"v":14},{"c":10,"r":17,"v":14},{"c":11,"r":17,"v":14},{"c":12,"r":17,"v":14},{"c":13,"r":17,"v":14},{"c":14,"r":17,"v":14},{"c":15,"r":17,"v":30},{"c":16,"r":17,"v":50},{"c":17,"r":17,"v":100},
{"c":1,"r":16,"v":15},{"c":2,"r":16,"v":15},{"c":3,"r":16,"v":14},{"c":4,"r":16,"v":14},{"c":5,"r":16,"v":12},{"c":6,"r":16,"v":12},{"c":7,"r":16,"v":12},{"c":8,"r":16,"v":12},{"c":9,"r":16,"v":12},{"c":10,"r":16,"v":12},{"c":11,"r":16,"v":12},{"c":12,"r":16,"v":12},{"c":13,"r":16,"v":14},{"c":14,"r":16,"v":16},{"c":15,"r":16,"v":45},{"c":16,"r":16,"v":100},{"c":17,"r":16,"v":50},
{"c":1,"r":15,"v":14},{"c":2,"r":15,"v":14},{"c":3,"r":15,"v":12},{"c":4,"r":15,"v":12},{"c":5,"r":15,"v":12},{"c":6,"r":15,"v":12},{"c":7,"r":15,"v":12},{"c":8,"r":15,"v":12},{"c":9,"r":15,"v":12},{"c":10,"r":15,"v":12},{"c":11,"r":15,"v":12},{"c":12,"r":15,"v":14},{"c":13,"r":15,"v":60},{"c":14,"r":15,"v":75},{"c":15,"r":15,"v":100},{"c":16,"r":15,"v":40},{"c":17,"r":15,"v":28},
{"c":1,"r":14,"v":12},{"c":2,"r":14,"v":12},{"c":3,"r":14,"v":12},{"c":4,"r":14,"v":12},{"c":5,"r":14,"v":12},{"c":6,"r":14,"v":10},{"c":7,"r":14,"v":10},{"c":8,"r":14,"v":10},{"c":9,"r":14,"v":10},{"c":10,"r":14,"v":12},{"c":11,"r":14,"v":14},{"c":12,"r":14,"v":18},{"c":13,"r":14,"v":55},{"c":14,"r":14,"v":100},{"c":15,"r":14,"v":70},{"c":16,"r":14,"v":20},{"c":17,"r":14,"v":14},
{"c":1,"r":13,"v":12},{"c":2,"r":13,"v":12},{"c":3,"r":13,"v":10},{"c":4,"r":13,"v":10},{"c":5,"r":13,"v":10},{"c":6,"r":13,"v":10},{"c":7,"r":13,"v":10},{"c":8,"r":13,"v":10},{"c":9,"r":13,"v":10},{"c":10,"r":13,"v":12},{"c":11,"r":13,"v":14},{"c":12,"r":13,"v":18},{"c":13,"r":13,"v":100},{"c":14,"r":13,"v":60},{"c":15,"r":13,"v":55},{"c":16,"r":13,"v":16},{"c":17,"r":13,"v":12},
{"c":1,"r":12,"v":10},{"c":2,"r":12,"v":10},{"c":3,"r":12,"v":10},{"c":4,"r":12,"v":10},{"c":5,"r":12,"v":10},{"c":6,"r":12,"v":10},{"c":7,"r":12,"v":10},{"c":8,"r":12,"v":12},{"c":9,"r":12,"v":14},{"c":10,"r":12,"v":55},{"c":11,"r":12,"v":70},{"c":12,"r":12,"v":100},{"c":13,"r":12,"v":18},{"c":14,"r":12,"v":14},{"c":15,"r":12,"v":12},{"c":16,"r":12,"v":12},{"c":17,"r":12,"v":10},
{"c":1,"r":11,"v":10},{"c":2,"r":11,"v":10},{"c":3,"r":11,"v":10},{"c":4,"r":11,"v":10},{"c":5,"r":11,"v":10},{"c":6,"r":11,"v":10},{"c":7,"r":11,"v":12},{"c":8,"r":11,"v":14},{"c":9,"r":11,"v":18},{"c":10,"r":11,"v":75},{"c":11,"r":11,"v":100},{"c":12,"r":11,"v":65},{"c":13,"r":11,"v":16},{"c":14,"r":11,"v":12},{"c":15,"r":11,"v":10},{"c":16,"r":11,"v":10},{"c":17,"r":11,"v":10},
{"c":1,"r":10,"v":10},{"c":2,"r":10,"v":10},{"c":3,"r":10,"v":10},{"c":4,"r":10,"v":10},{"c":5,"r":10,"v":10},{"c":6,"r":10,"v":10},{"c":7,"r":10,"v":12},{"c":8,"r":10,"v":16},{"c":9,"r":10,"v":22},{"c":10,"r":10,"v":100},{"c":11,"r":10,"v":70},{"c":12,"r":10,"v":55},{"c":13,"r":10,"v":14},{"c":14,"r":10,"v":12},{"c":15,"r":10,"v":10},{"c":16,"r":10,"v":10},{"c":17,"r":10,"v":10},
{"c":1,"r":9,"v":12},{"c":2,"r":9,"v":12},{"c":3,"r":9,"v":10},{"c":4,"r":9,"v":10},{"c":5,"r":9,"v":12},{"c":6,"r":9,"v":18},{"c":7,"r":9,"v":60},{"c":8,"r":9,"v":70},{"c":9,"r":9,"v":100},{"c":10,"r":9,"v":22},{"c":11,"r":9,"v":16},{"c":12,"r":9,"v":12},{"c":13,"r":9,"v":10},{"c":14,"r":9,"v":10},{"c":15,"r":9,"v":10},{"c":16,"r":9,"v":10},{"c":17,"r":9,"v":10},
{"c":1,"r":8,"v":12},{"c":2,"r":8,"v":12},{"c":3,"r":8,"v":10},{"c":4,"r":8,"v":10},{"c":5,"r":8,"v":12},{"c":6,"r":8,"v":20},{"c":7,"r":8,"v":65},{"c":8,"r":8,"v":100},{"c":9,"r":8,"v":70},{"c":10,"r":8,"v":18},{"c":11,"r":8,"v":14},{"c":12,"r":8,"v":10},{"c":13,"r":8,"v":10},{"c":14,"r":8,"v":10},{"c":15,"r":8,"v":10},{"c":16,"r":8,"v":10},{"c":17,"r":8,"v":10},
{"c":1,"r":7,"v":12},{"c":2,"r":7,"v":12},{"c":3,"r":7,"v":12},{"c":4,"r":7,"v":14},{"c":5,"r":7,"v":18},{"c":6,"r":7,"v":22},{"c":7,"r":7,"v":100},{"c":8,"r":7,"v":65},{"c":9,"r":7,"v":55},{"c":10,"r":7,"v":16},{"c":11,"r":7,"v":12},{"c":12,"r":7,"v":10},{"c":13,"r":7,"v":10},{"c":14,"r":7,"v":10},{"c":15,"r":7,"v":10},{"c":16,"r":7,"v":10},{"c":17,"r":7,"v":10},
{"c":1,"r":6,"v":12},{"c":2,"r":6,"v":12},{"c":3,"r":6,"v":14},{"c":4,"r":6,"v":55},{"c":5,"r":6,"v":70},{"c":6,"r":6,"v":100},{"c":7,"r":6,"v":22},{"c":8,"r":6,"v":18},{"c":9,"r":6,"v":14},{"c":10,"r":6,"v":12},{"c":11,"r":6,"v":10},{"c":12,"r":6,"v":10},{"c":13,"r":6,"v":10},{"c":14,"r":6,"v":10},{"c":15,"r":6,"v":10},{"c":16,"r":6,"v":10},{"c":17,"r":6,"v":10},
{"c":1,"r":5,"v":14},{"c":2,"r":5,"v":14},{"c":3,"r":5,"v":18},{"c":4,"r":5,"v":65},{"c":5,"r":5,"v":100},{"c":6,"r":5,"v":70},{"c":7,"r":5,"v":20},{"c":8,"r":5,"v":16},{"c":9,"r":5,"v":12},{"c":10,"r":5,"v":12},{"c":11,"r":5,"v":10},{"c":12,"r":5,"v":10},{"c":13,"r":5,"v":10},{"c":14,"r":5,"v":10},{"c":15,"r":5,"v":10},{"c":16,"r":5,"v":10},{"c":17,"r":5,"v":12},
{"c":1,"r":4,"v":14},{"c":2,"r":4,"v":16},{"c":3,"r":4,"v":22},{"c":4,"r":4,"v":100},{"c":5,"r":4,"v":65},{"c":6,"r":4,"v":55},{"c":7,"r":4,"v":18},{"c":8,"r":4,"v":14},{"c":9,"r":4,"v":12},{"c":10,"r":4,"v":12},{"c":11,"r":4,"v":10},{"c":12,"r":4,"v":10},{"c":13,"r":4,"v":10},{"c":14,"r":4,"v":10},{"c":15,"r":4,"v":10},{"c":16,"r":4,"v":12},{"c":17,"r":4,"v":12},
{"c":1,"r":3,"v":60},{"c":2,"r":3,"v":70},{"c":3,"r":3,"v":100},{"c":4,"r":3,"v":22},{"c":5,"r":3,"v":18},{"c":6,"r":3,"v":14},{"c":7,"r":3,"v":12},{"c":8,"r":3,"v":12},{"c":9,"r":3,"v":12},{"c":10,"r":3,"v":12},{"c":11,"r":3,"v":12},{"c":12,"r":3,"v":12},{"c":13,"r":3,"v":12},{"c":14,"r":3,"v":12},{"c":15,"r":3,"v":12},{"c":16,"r":3,"v":12},{"c":17,"r":3,"v":12},
{"c":1,"r":2,"v":65},{"c":2,"r":2,"v":100},{"c":3,"r":2,"v":70},{"c":4,"r":2,"v":18},{"c":5,"r":2,"v":14},{"c":6,"r":2,"v":12},{"c":7,"r":2,"v":12},{"c":8,"r":2,"v":12},{"c":9,"r":2,"v":12},{"c":10,"r":2,"v":12},{"c":11,"r":2,"v":12},{"c":12,"r":2,"v":12},{"c":13,"r":2,"v":12},{"c":14,"r":2,"v":12},{"c":15,"r":2,"v":12},{"c":16,"r":2,"v":12},{"c":17,"r":2,"v":12},
{"c":1,"r":1,"v":100},{"c":2,"r":1,"v":65},{"c":3,"r":1,"v":60},{"c":4,"r":1,"v":16},{"c":5,"r":1,"v":14},{"c":6,"r":1,"v":12},{"c":7,"r":1,"v":12},{"c":8,"r":1,"v":12},{"c":9,"r":1,"v":12},{"c":10,"r":1,"v":12},{"c":11,"r":1,"v":12},{"c":12,"r":1,"v":12},{"c":13,"r":1,"v":12},{"c":14,"r":1,"v":12},{"c":15,"r":1,"v":12},{"c":16,"r":1,"v":12},{"c":17,"r":1,"v":12}],
"ttC":[
{"c":1,"r":9,"v":12},{"c":2,"r":9,"v":14},{"c":3,"r":9,"v":12},{"c":4,"r":9,"v":12},{"c":5,"r":9,"v":14},{"c":6,"r":9,"v":15},{"c":7,"r":9,"v":35},{"c":8,"r":9,"v":25},{"c":9,"r":9,"v":100},
{"c":1,"r":8,"v":12},{"c":2,"r":8,"v":14},{"c":3,"r":8,"v":12},{"c":4,"r":8,"v":14},{"c":5,"r":8,"v":16},{"c":6,"r":8,"v":18},{"c":7,"r":8,"v":35},{"c":8,"r":8,"v":100},{"c":9,"r":8,"v":50},
{"c":1,"r":7,"v":14},{"c":2,"r":7,"v":16},{"c":3,"r":7,"v":14},{"c":4,"r":7,"v":18},{"c":5,"r":7,"v":25},{"c":6,"r":7,"v":30},{"c":7,"r":7,"v":100},{"c":8,"r":7,"v":50},{"c":9,"r":7,"v":35},
{"c":1,"r":6,"v":12},{"c":2,"r":6,"v":12},{"c":3,"r":6,"v":14},{"c":4,"r":6,"v":40},{"c":5,"r":6,"v":45},{"c":6,"r":6,"v":100},{"c":7,"r":6,"v":25},{"c":8,"r":6,"v":22},{"c":9,"r":6,"v":40},
{"c":1,"r":5,"v":10},{"c":2,"r":5,"v":12},{"c":3,"r":5,"v":16},{"c":4,"r":5,"v":38},{"c":5,"r":5,"v":100},{"c":6,"r":5,"v":50},{"c":7,"r":5,"v":22},{"c":8,"r":5,"v":20},{"c":9,"r":5,"v":25},
{"c":1,"r":4,"v":12},{"c":2,"r":4,"v":14},{"c":3,"r":4,"v":25},{"c":4,"r":4,"v":100},{"c":5,"r":4,"v":30},{"c":6,"r":4,"v":18},{"c":7,"r":4,"v":15},{"c":8,"r":4,"v":14},{"c":9,"r":4,"v":15},
{"c":1,"r":3,"v":45},{"c":2,"r":3,"v":45},{"c":3,"r":3,"v":100},{"c":4,"r":3,"v":22},{"c":5,"r":3,"v":18},{"c":6,"r":3,"v":14},{"c":7,"r":3,"v":12},{"c":8,"r":3,"v":14},{"c":9,"r":3,"v":14},
{"c":1,"r":2,"v":50},{"c":2,"r":2,"v":100},{"c":3,"r":2,"v":48},{"c":4,"r":2,"v":16},{"c":5,"r":2,"v":14},{"c":6,"r":2,"v":12},{"c":7,"r":2,"v":12},{"c":8,"r":2,"v":38},{"c":9,"r":2,"v":14},
{"c":1,"r":1,"v":100},{"c":2,"r":1,"v":48},{"c":3,"r":1,"v":45},{"c":4,"r":1,"v":14},{"c":5,"r":1,"v":12},{"c":6,"r":1,"v":12},{"c":7,"r":1,"v":12},{"c":8,"r":1,"v":8},{"c":9,"r":1,"v":8}],
"limC":[
{"c":1,"r":9,"v":14},{"c":2,"r":9,"v":14},{"c":3,"r":9,"v":12},{"c":4,"r":9,"v":35},{"c":5,"r":9,"v":14},{"c":6,"r":9,"v":14},{"c":7,"r":9,"v":18},{"c":8,"r":9,"v":30},{"c":9,"r":9,"v":100},
{"c":1,"r":8,"v":12},{"c":2,"r":8,"v":12},{"c":3,"r":8,"v":12},{"c":4,"r":8,"v":30},{"c":5,"r":8,"v":14},{"c":6,"r":8,"v":16},{"c":7,"r":8,"v":40},{"c":8,"r":8,"v":100},{"c":9,"r":8,"v":30},
{"c":1,"r":7,"v":12},{"c":2,"r":7,"v":14},{"c":3,"r":7,"v":12},{"c":4,"r":7,"v":16},{"c":5,"r":7,"v":18},{"c":6,"r":7,"v":25},{"c":7,"r":7,"v":100},{"c":8,"r":7,"v":45},{"c":9,"r":7,"v":22},
{"c":1,"r":6,"v":14},{"c":2,"r":6,"v":14},{"c":3,"r":6,"v":18},{"c":4,"r":6,"v":40},{"c":5,"r":6,"v":45},{"c":6,"r":6,"v":100},{"c":7,"r":6,"v":30},{"c":8,"r":6,"v":18},{"c":9,"r":6,"v":20},
{"c":1,"r":5,"v":12},{"c":2,"r":5,"v":12},{"c":3,"r":5,"v":18},{"c":4,"r":5,"v":45},{"c":5,"r":5,"v":100},{"c":6,"r":5,"v":48},{"c":7,"r":5,"v":22},{"c":8,"r":5,"v":16},{"c":9,"r":5,"v":18},
{"c":1,"r":4,"v":16},{"c":2,"r":4,"v":16},{"c":3,"r":4,"v":30},{"c":4,"r":4,"v":100},{"c":5,"r":4,"v":40},{"c":6,"r":4,"v":20},{"c":7,"r":4,"v":15},{"c":8,"r":4,"v":12},{"c":9,"r":4,"v":14},
{"c":1,"r":3,"v":42},{"c":2,"r":3,"v":48},{"c":3,"r":3,"v":100},{"c":4,"r":3,"v":28},{"c":5,"r":3,"v":18},{"c":6,"r":3,"v":14},{"c":7,"r":3,"v":12},{"c":8,"r":3,"v":14},{"c":9,"r":3,"v":14},
{"c":1,"r":2,"v":48},{"c":2,"r":2,"v":100},{"c":3,"r":2,"v":45},{"c":4,"r":2,"v":16},{"c":5,"r":2,"v":14},{"c":6,"r":2,"v":12},{"c":7,"r":2,"v":12},{"c":8,"r":2,"v":14},{"c":9,"r":2,"v":12},
{"c":1,"r":1,"v":100},{"c":2,"r":1,"v":45},{"c":3,"r":1,"v":40},{"c":4,"r":1,"v":14},{"c":5,"r":1,"v":12},{"c":6,"r":1,"v":12},{"c":7,"r":1,"v":12},{"c":8,"r":1,"v":10},{"c":9,"r":1,"v":10}],
"scC":[
{"c":1,"r":9,"v":58},{"c":2,"r":9,"v":55},{"c":3,"r":9,"v":60},{"c":4,"r":9,"v":52},{"c":5,"r":9,"v":55},{"c":6,"r":9,"v":56},{"c":7,"r":9,"v":68},{"c":8,"r":9,"v":68},{"c":9,"r":9,"v":72},
{"c":1,"r":8,"v":58},{"c":2,"r":8,"v":53},{"c":3,"r":8,"v":55},{"c":4,"r":8,"v":52},{"c":5,"r":8,"v":56},{"c":6,"r":8,"v":54},{"c":7,"r":8,"v":65},{"c":8,"r":8,"v":72},{"c":9,"r":8,"v":65},
{"c":1,"r":7,"v":58},{"c":2,"r":7,"v":50},{"c":3,"r":7,"v":55},{"c":4,"r":7,"v":55},{"c":5,"r":7,"v":54},{"c":6,"r":7,"v":55},{"c":7,"r":7,"v":66},{"c":8,"r":7,"v":64},{"c":9,"r":7,"v":62},
{"c":1,"r":6,"v":50},{"c":2,"r":6,"v":46},{"c":3,"r":6,"v":48},{"c":4,"r":6,"v":58},{"c":5,"r":6,"v":60},{"c":6,"r":6,"v":72},{"c":7,"r":6,"v":50},{"c":8,"r":6,"v":50},{"c":9,"r":6,"v":50},
{"c":1,"r":5,"v":48},{"c":2,"r":5,"v":45},{"c":3,"r":5,"v":46},{"c":4,"r":5,"v":58},{"c":5,"r":5,"v":66},{"c":6,"r":5,"v":57},{"c":7,"r":5,"v":50},{"c":8,"r":5,"v":50},{"c":9,"r":5,"v":50},
{"c":1,"r":4,"v":44},{"c":2,"r":4,"v":45},{"c":3,"r":4,"v":46},{"c":4,"r":4,"v":65},{"c":5,"r":4,"v":10},{"c":6,"r":4,"v":10},{"c":7,"r":4,"v":10},{"c":8,"r":4,"v":10},{"c":9,"r":4,"v":10},
{"c":1,"r":3,"v":66},{"c":2,"r":3,"v":50},{"c":3,"r":3,"v":64},{"c":4,"r":3,"v":52},{"c":5,"r":3,"v":56},{"c":6,"r":3,"v":56},{"c":7,"r":3,"v":56},{"c":8,"r":3,"v":55},{"c":9,"r":3,"v":55},
{"c":1,"r":2,"v":15},{"c":2,"r":2,"v":98},{"c":3,"r":2,"v":8},{"c":4,"r":2,"v":8},{"c":5,"r":2,"v":8},{"c":6,"r":2,"v":8},{"c":7,"r":2,"v":8},{"c":8,"r":2,"v":8},{"c":9,"r":2,"v":8},
{"c":1,"r":1,"v":64},{"c":2,"r":1,"v":52},{"c":3,"r":1,"v":58},{"c":4,"r":1,"v":52},{"c":5,"r":1,"v":55},{"c":6,"r":1,"v":55},{"c":7,"r":1,"v":58},{"c":8,"r":1,"v":58},{"c":9,"r":1,"v":55}]
},
"concat":[
{"title":{"text":"T-Test","dy":14},"width":257,"height":204,"data":{"name":"ttA"},"mark":"rect","encoding":{"x":{"field":"c","type":"ordinal","axis":{"title":null,"labelAngle":-90,"labelPadding":2}},"y":{"field":"r","type":"ordinal","sort":"descending","axis":{"title":"A","labels":false,"titleAngle":0,"titleX":-53,"titleY":-2,"titleFontSize":13,"titleFontWeight":"normal","titleColor":"#222"}},"color":{"field":"v","type":"quantitative","scale":{"domain":[0,50,100],"range":["#7ef8f6","#ffffff","#ec84e8"],"interpolate":"rgb"},"legend":{"title":null,"values":[0,50,100],"labelExpr":"datum.value + '%'"}}}},
{"title":"Limma","width":257,"height":204,"data":{"name":"limA"},"mark":"rect","encoding":{"x":{"field":"c","type":"ordinal","axis":{"title":null,"labelAngle":-90,"labelPadding":2}},"y":{"field":"r","type":"ordinal","sort":"descending","axis":null},"color":{"field":"v","type":"quantitative","scale":{"domain":[0,50,100],"range":["#7ef8f6","#ffffff","#ec84e8"],"interpolate":"rgb"},"legend":{"title":null,"values":[0,50,100],"labelExpr":"datum.value + '%'"}}}},
{"title":"S-C","width":257,"height":204,"data":{"name":"scA"},"mark":"rect","encoding":{"x":{"field":"c","type":"ordinal","axis":{"title":null,"labelAngle":-90,"labelPadding":2}},"y":{"field":"r","type":"ordinal","sort":"descending","axis":{"orient":"right","title":null,"labelPadding":4}},"color":{"field":"v","type":"quantitative","scale":{"domain":[0,50,100],"range":["#7ef8f6","#ffffff","#ec84e8"],"interpolate":"rgb"},"legend":{"title":null,"values":[0,50,100],"labelExpr":"datum.value + '%'"}}}},
{"width":257,"height":203,"data":{"name":"ttB"},"mark":"rect","encoding":{"x":{"field":"c","type":"ordinal","axis":{"title":null,"labelAngle":-90,"labelPadding":2}},"y":{"field":"r","type":"ordinal","sort":"descending","axis":{"title":"B","labels":false,"titleAngle":0,"titleX":-53,"titleY":-2,"titleFontSize":13,"titleFontWeight":"normal","titleColor":"#222"}},"color":{"field":"v","type":"quantitative","scale":{"domain":[0,50,100],"range":["#7ef8f6","#ffffff","#ec84e8"],"interpolate":"rgb"},"legend":{"title":null,"values":[0,50,100],"labelExpr":"datum.value + '%'"}}}},
{"width":257,"height":203,"data":{"name":"limB"},"mark":"rect","encoding":{"x":{"field":"c","type":"ordinal","axis":{"title":null,"labelAngle":-90,"labelPadding":2}},"y":{"field":"r","type":"ordinal","sort":"descending","axis":null},"color":{"field":"v","type":"quantitative","scale":{"domain":[0,50,100],"range":["#7ef8f6","#ffffff","#ec84e8"],"interpolate":"rgb"},"legend":{"title":null,"values":[0,50,100],"labelExpr":"datum.value + '%'"}}}},
{"width":257,"height":203,"data":{"name":"scB"},"mark":"rect","encoding":{"x":{"field":"c","type":"ordinal","axis":{"title":null,"labelAngle":-90,"labelPadding":2}},"y":{"field":"r","type":"ordinal","sort":"descending","axis":{"orient":"right","title":null,"labelPadding":4}},"color":{"field":"v","type":"quantitative","scale":{"domain":[0,50,100],"range":["#7ef8f6","#ffffff","#ec84e8"],"interpolate":"rgb"},"legend":{"title":null,"values":[0,50,100],"labelExpr":"datum.value + '%'"}}}},
{"width":257,"height":205,"data":{"name":"ttC"},"mark":"rect","encoding":{"x":{"field":"c","type":"ordinal","axis":{"title":null,"labelAngle":0,"labelPadding":5}},"y":{"field":"r","type":"ordinal","sort":"descending","axis":{"title":"C","labels":false,"titleAngle":0,"titleX":-53,"titleY":-6,"titleFontSize":13,"titleFontWeight":"normal","titleColor":"#222"}},"color":{"field":"v","type":"quantitative","scale":{"domain":[0,50,100],"range":["#7ef8f6","#ffffff","#ec84e8"],"interpolate":"rgb"},"legend":{"title":null,"values":[0,50,100],"labelExpr":"datum.value + '%'"}}}},
{"width":257,"height":205,"data":{"name":"limC"},"mark":"rect","encoding":{"x":{"field":"c","type":"ordinal","axis":{"title":null,"labelAngle":0,"labelPadding":5}},"y":{"field":"r","type":"ordinal","sort":"descending","axis":null},"color":{"field":"v","type":"quantitative","scale":{"domain":[0,50,100],"range":["#7ef8f6","#ffffff","#ec84e8"],"interpolate":"rgb"},"legend":{"title":null,"values":[0,50,100],"labelExpr":"datum.value + '%'"}}}},
{"width":257,"height":205,"data":{"name":"scC"},"mark":"rect","encoding":{"x":{"field":"c","type":"ordinal","axis":{"title":null,"labelAngle":0,"labelPadding":5}},"y":{"field":"r","type":"ordinal","sort":"descending","axis":{"orient":"right","title":null,"labelPadding":4}},"color":{"field":"v","type":"quantitative","scale":{"domain":[0,50,100],"range":["#7ef8f6","#ffffff","#ec84e8"],"interpolate":"rgb"},"legend":{"title":null,"values":[0,50,100],"labelExpr":"datum.value + '%'"}}}}
],
"columns":3,
"spacing":{"row":29,"column":1},
"bounds":"flush",
"resolve":{"scale":{"color":"shared"}}
}
